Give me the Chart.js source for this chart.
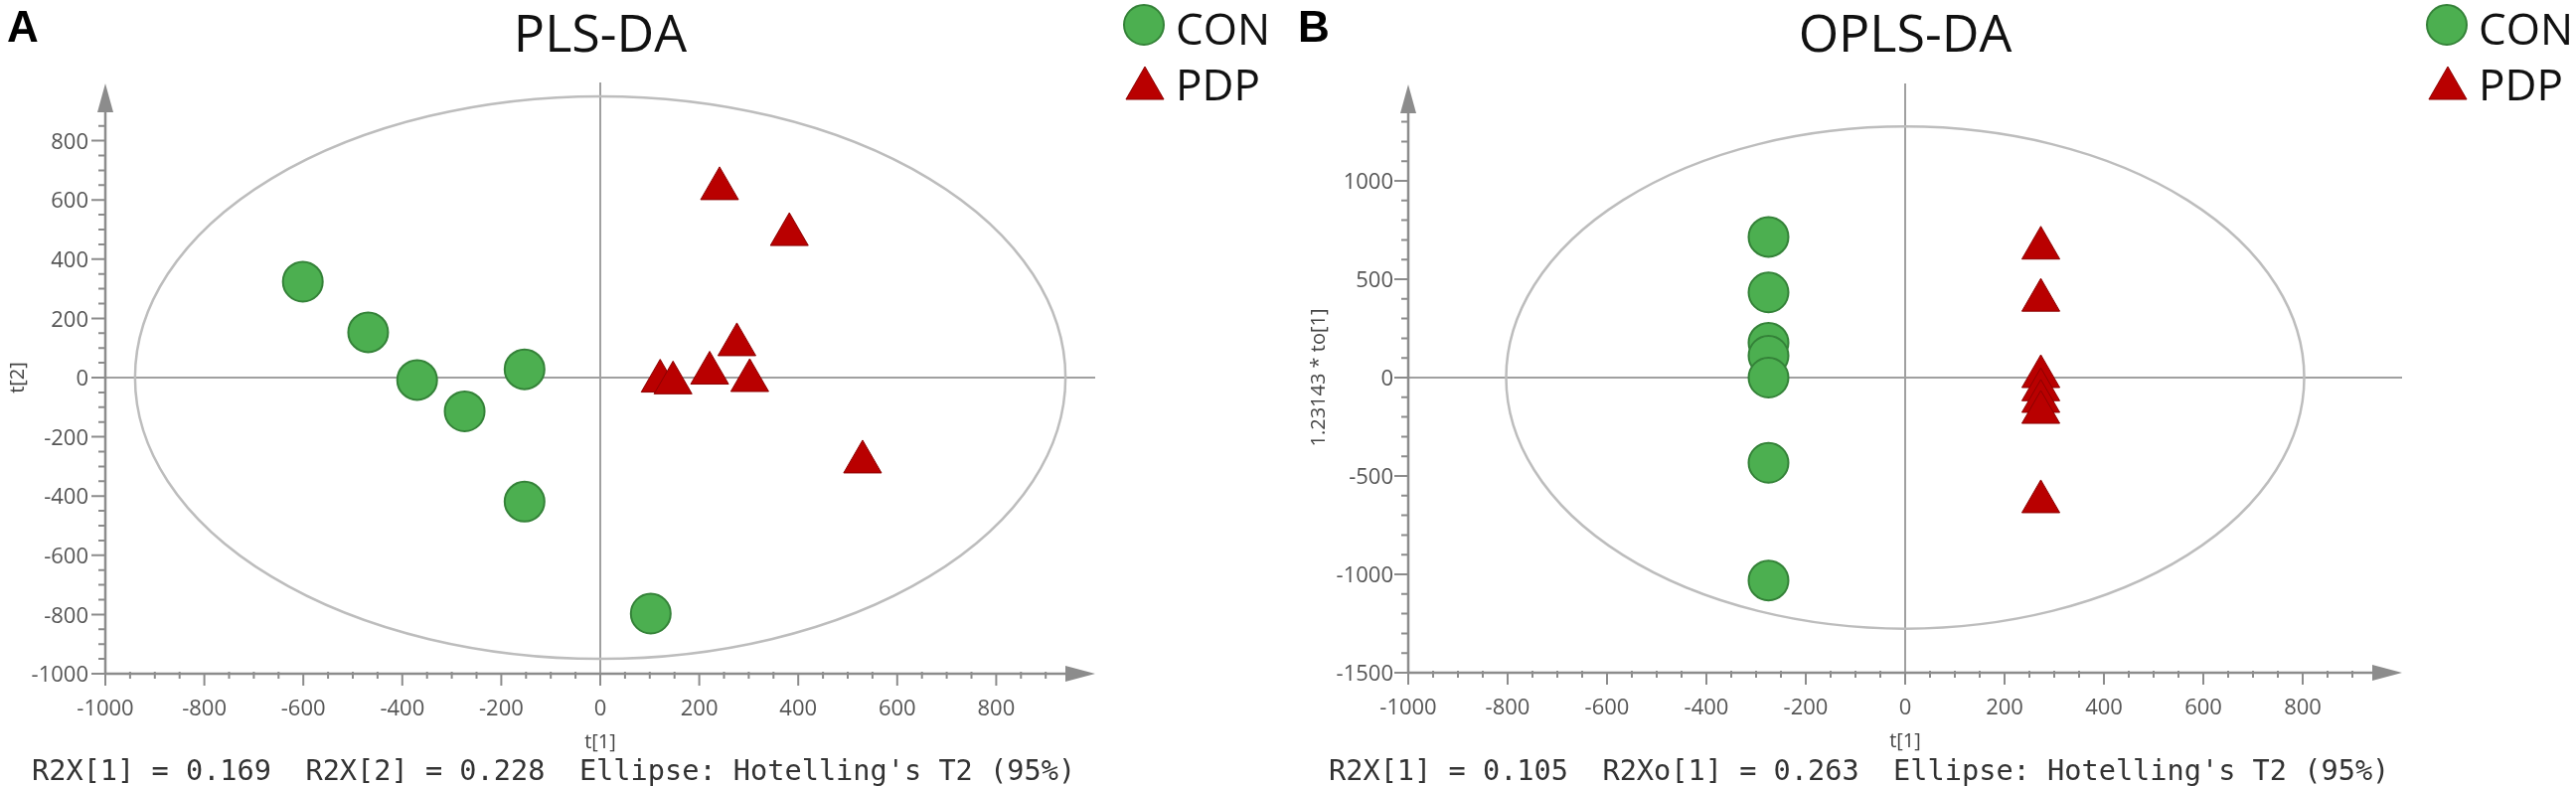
<!DOCTYPE html>
<html>
<head>
<meta charset="utf-8">
<script src="https://cdn.jsdelivr.net/npm/chart.js@4.4.1/dist/chart.umd.min.js"></script>
<style>
  html, body { margin: 0; padding: 0; background: #fff; }
  body { width: 2592px; height: 791px; position: relative; overflow: hidden; }
  canvas { position: absolute; top: 0; }
  #cA { left: 0; }
  #cB { left: 1296px; }
</style>
</head>
<body>
<canvas id="cA" width="1296" height="791"></canvas>
<canvas id="cB" width="1296" height="791"></canvas>
<script>
// ---------------- data ----------------
const GROUPS = ['CON', 'PDP'];

// Panel A: PLS-DA scores t[1], t[2]
const PLS_CON_X = [-601, -469, -370, -274, -153, -153, 102];
const PLS_CON_Y = [324, 153, -8, -114, 28, -419, -797];
const PLS_PDP_X = [241, 382, 276, 221, 302, 121, 147, 530];
const PLS_PDP_Y = [638, 483, 111, 15, -10, -12, -18, -285];
const PLS_ELLIPSE = [940, 950];          // Hotelling's T2 semi-axes (t[1], t[2])

// Panel B: OPLS-DA scores t[1], 1.23143 * to[1]
const OPLS_CON_X = [-275, -275, -275, -275, -275, -275, -275];
const OPLS_CON_Y = [715, 433, 177, 111, 0, -433, -1031];
const OPLS_PDP_X = [273, 273, 273, 273, 273, 273, 273];
const OPLS_PDP_Y = [658, 393, 5, -62, -121, -177, -631];
const OPLS_ELLIPSE = [803, 1276];

// tick labels
const X_TICKS = [-1000, -800, -600, -400, -200, 0, 200, 400, 600, 800];
const PLS_Y_TICKS = [-1000, -800, -600, -400, -200, 0, 200, 400, 600, 800];
const OPLS_Y_TICKS = [-1500, -1000, -500, 0, 500, 1000];
const X_RANGE = [-1000, 1000];
const PLS_Y_RANGE = [-1000, 1000];
const OPLS_Y_RANGE = [-1500, 1500];
const X_MINOR = { step: 50, last: 900 };
const PLS_Y_MINOR = { step: 50, last: 850 };
const OPLS_Y_MINOR = { step: 100, last: 1300 };

const PANELS = [
  {
    id: 'cA', letter: 'A', title: 'PLS-DA', yTitle: 't[2]', xTitle: 't[1]',
    conX: PLS_CON_X, conY: PLS_CON_Y, pdpX: PLS_PDP_X, pdpY: PLS_PDP_Y,
    ellipse: PLS_ELLIPSE, yTicks: PLS_Y_TICKS, yRange: PLS_Y_RANGE, yMinor: PLS_Y_MINOR,
    footer: 'R2X[1] = 0.169  R2X[2] = 0.228  Ellipse: Hotelling\'s T2 (95%)',
    layout: { left: 106, right: 194, top: 82, bottom: 113 },
    pos: { letterX: 7, legendX: 1151, legendTextX: 1183, yTitleX: 18, yLabelRight: 89, footerX: 32 }
  },
  {
    id: 'cB', letter: 'B', title: 'OPLS-DA', yTitle: '1.23143 * to[1]', xTitle: 't[1]',
    conX: OPLS_CON_X, conY: OPLS_CON_Y, pdpX: OPLS_PDP_X, pdpY: OPLS_PDP_Y,
    ellipse: OPLS_ELLIPSE, yTicks: OPLS_Y_TICKS, yRange: OPLS_Y_RANGE, yMinor: OPLS_Y_MINOR,
    footer: 'R2X[1] = 0.105  R2Xo[1] = 0.263  Ellipse: Hotelling\'s T2 (95%)',
    layout: { left: 121, right: 175, top: 83, bottom: 114 },
    pos: { letterX: 10, legendX: 1166, legendTextX: 1198, yTitleX: 31, yLabelRight: 106, footerX: 41 }
  }
];

const GREEN = 'rgb(76,175,80)';
const GREEN_BORDER = 'rgb(52,130,56)';
const RED = 'rgb(185,0,0)';
const RED_BORDER = 'rgb(140,0,0)';
const AXIS = '#8c8c8c';
const LABEL = '#555';
const SANS = '"Open Sans", "Noto Sans", sans-serif';

function toPoints(xs, ys) { return xs.map((x, i) => ({ x: x, y: ys[i] })); }

function drawTriangle(ctx, cx, cy, r) {
  ctx.beginPath();
  ctx.moveTo(cx, cy - r);
  ctx.lineTo(cx + r * Math.sin(2 * Math.PI / 3), cy - r * Math.cos(2 * Math.PI / 3));
  ctx.lineTo(cx + r * Math.sin(4 * Math.PI / 3), cy - r * Math.cos(4 * Math.PI / 3));
  ctx.closePath();
}

const decorPlugin = {
  id: 'decor',
  beforeDatasetsDraw(chart, args, opts) {
    const p = opts.panel;
    const ctx = chart.ctx;
    const xs = chart.scales.x, ys = chart.scales.y;
    const ca = chart.chartArea;
    ctx.save();
    // crosshair through origin
    ctx.strokeStyle = '#a0a0a0';
    ctx.lineWidth = 2;
    const x0 = xs.getPixelForValue(0), y0 = ys.getPixelForValue(0);
    ctx.beginPath();
    ctx.moveTo(x0, ca.top + 1); ctx.lineTo(x0, ca.bottom);
    ctx.moveTo(ca.left, y0); ctx.lineTo(ca.right, y0);
    ctx.stroke();
    // Hotelling ellipse
    const rx = xs.getPixelForValue(p.ellipse[0]) - x0;
    const ry = y0 - ys.getPixelForValue(p.ellipse[1]);
    ctx.strokeStyle = '#bdbdbd';
    ctx.lineWidth = 2.5;
    ctx.beginPath();
    ctx.ellipse(x0, y0, rx, ry, 0, 0, Math.PI * 2);
    ctx.stroke();

    // axes
    const axY = ys.getPixelForValue(p.yRange[0]);
    const axX = xs.getPixelForValue(X_RANGE[0]);
    ctx.strokeStyle = AXIS;
    ctx.fillStyle = AXIS;
    ctx.lineWidth = 2.5;
    ctx.beginPath();
    ctx.moveTo(axX, axY); ctx.lineTo(ca.right - 26, axY);
    ctx.moveTo(axX, axY); ctx.lineTo(axX, ca.top + 26);
    ctx.stroke();
    // arrowheads
    ctx.beginPath();
    ctx.moveTo(ca.right, axY); ctx.lineTo(ca.right - 30, axY - 8); ctx.lineTo(ca.right - 30, axY + 8);
    ctx.closePath(); ctx.fill();
    ctx.beginPath();
    ctx.moveTo(axX, ca.top + 2); ctx.lineTo(axX - 8, ca.top + 31); ctx.lineTo(axX + 8, ca.top + 31);
    ctx.closePath(); ctx.fill();

    // ticks
    ctx.lineWidth = 2;
    ctx.beginPath();
    for (let v = X_RANGE[0]; v <= X_MINOR.last; v += X_MINOR.step) {
      const px = xs.getPixelForValue(v);
      if (X_TICKS.includes(v)) { ctx.moveTo(px, axY); ctx.lineTo(px, axY + 12); }
      else { ctx.moveTo(px, axY - 2); ctx.lineTo(px, axY + 5); }
    }
    for (let v = p.yRange[0]; v <= p.yMinor.last; v += p.yMinor.step) {
      const py = ys.getPixelForValue(v);
      if (p.yTicks.includes(v)) { ctx.moveTo(axX - 14, py); ctx.lineTo(axX, py); }
      else { ctx.moveTo(axX - 7, py); ctx.lineTo(axX + 1, py); }
    }
    ctx.stroke();

    // tick labels
    ctx.fillStyle = LABEL;
    ctx.font = '22px ' + SANS;
    ctx.textAlign = 'center';
    ctx.textBaseline = 'alphabetic';
    X_TICKS.forEach(v => ctx.fillText(String(v), xs.getPixelForValue(v), axY + 42));
    ctx.textAlign = 'right';
    ctx.textBaseline = 'middle';
    p.yTicks.forEach(v => ctx.fillText(String(v), p.pos.yLabelRight, ys.getPixelForValue(v) + 2));

    // axis titles
    ctx.font = '20px ' + SANS;
    ctx.fillStyle = '#444';
    ctx.textAlign = 'center';
    ctx.textBaseline = 'alphabetic';
    ctx.fillText(p.xTitle, x0, axY + 75);
    ctx.save();
    ctx.translate(p.pos.yTitleX, y0);
    ctx.rotate(-Math.PI / 2);
    ctx.textBaseline = 'middle';
    ctx.fillText(p.yTitle, 0, 0);
    ctx.restore();
    ctx.restore();
  },
  afterDraw(chart, args, opts) {
    const p = opts.panel;
    const ctx = chart.ctx;
    const xs = chart.scales.x;
    ctx.save();
    // panel letter
    ctx.fillStyle = '#000';
    ctx.font = 'bold 44px "Liberation Sans", Arial, sans-serif';
    ctx.textAlign = 'left';
    ctx.textBaseline = 'alphabetic';
    ctx.fillText(p.letter, p.pos.letterX, 42);
    // title
    ctx.fillStyle = '#111';
    ctx.font = '52px ' + SANS;
    ctx.textAlign = 'center';
    ctx.fillText(p.title, xs.getPixelForValue(0), 52);
    // legend
    ctx.lineWidth = 2;
    ctx.fillStyle = GREEN; ctx.strokeStyle = GREEN_BORDER;
    ctx.beginPath(); ctx.arc(p.pos.legendX, 25, 20, 0, Math.PI * 2); ctx.fill(); ctx.stroke();
    ctx.fillStyle = RED; ctx.strokeStyle = RED_BORDER; ctx.lineWidth = 1;
    drawTriangle(ctx, p.pos.legendX + 1, 89, 22); ctx.fill(); ctx.stroke();
    ctx.fillStyle = '#111';
    ctx.font = '44px ' + SANS;
    ctx.textAlign = 'left';
    ctx.fillText(GROUPS[0], p.pos.legendTextX, 45);
    ctx.fillText(GROUPS[1], p.pos.legendTextX, 101);
    // footer
    ctx.fillStyle = '#333';
    ctx.font = '28.6px "DejaVu Sans Mono", monospace';
    ctx.fillText(p.footer, p.pos.footerX, 785);
    ctx.restore();
  }
};

PANELS.forEach(p => {
  new Chart(document.getElementById(p.id), {
    type: 'scatter',
    data: {
      datasets: [
        {
          label: GROUPS[0],
          data: toPoints(p.conX, p.conY),
          pointStyle: 'circle',
          pointRadius: 20,
          backgroundColor: GREEN,
          borderColor: GREEN_BORDER,
          borderWidth: 2
        },
        {
          label: GROUPS[1],
          data: toPoints(p.pdpX, p.pdpY),
          pointStyle: 'triangle',
          pointRadius: 22,
          backgroundColor: RED,
          borderColor: RED_BORDER,
          borderWidth: 1
        }
      ]
    },
    options: {
      responsive: false,
      animation: false,
      devicePixelRatio: 1,
      layout: { padding: p.layout },
      scales: {
        x: { type: 'linear', min: X_RANGE[0], max: X_RANGE[1], display: false },
        y: { type: 'linear', min: p.yRange[0], max: p.yRange[1], display: false }
      },
      plugins: {
        legend: { display: false },
        title: { display: false },
        tooltip: { enabled: false },
        decor: { panel: p }
      }
    },
    plugins: [decorPlugin]
  });
});
</script>
</body>
</html>
